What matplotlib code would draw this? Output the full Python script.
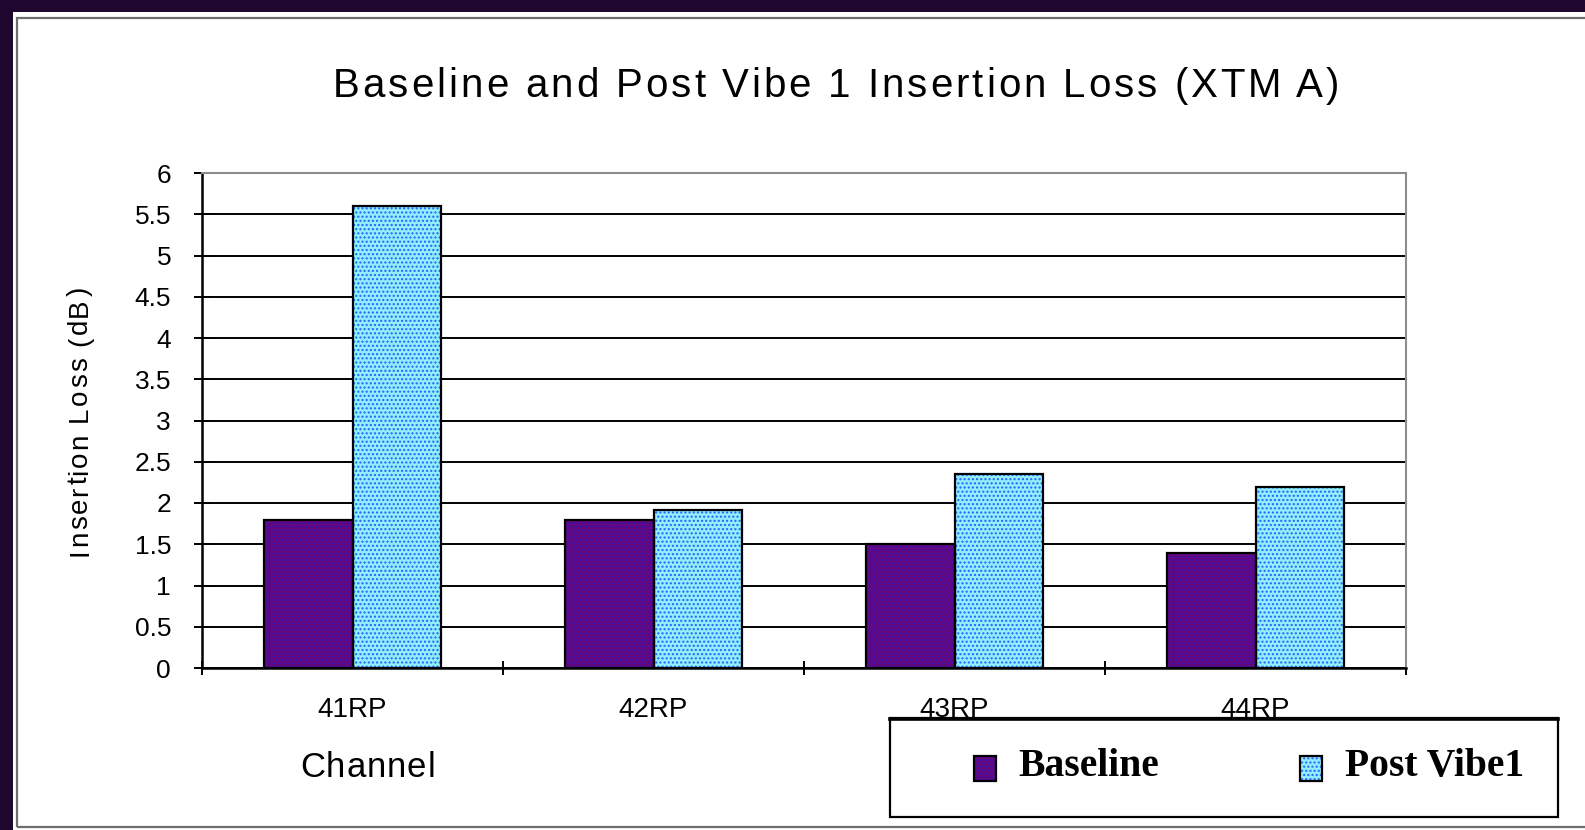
import matplotlib
matplotlib.use("Agg")
import numpy as np
import matplotlib.pyplot as plt
from matplotlib.patches import Rectangle
from matplotlib.lines import Line2D
from matplotlib.font_manager import FontProperties
from matplotlib.legend_handler import HandlerPatch

# ---- data -------------------------------------------------------------
channels = ["41RP", "42RP", "43RP", "44RP"]
baseline = [1.80, 1.80, 1.50, 1.40]
post_vibe1 = [5.60, 1.92, 2.35, 2.20]
series_names = ["Baseline", "Post Vibe1"]
y_ticks = [0, 0.5, 1, 1.5, 2, 2.5, 3, 3.5, 4, 4.5, 5, 5.5, 6]
y_tick_labels = ["0", "0.5", "1", "1.5", "2", "2.5", "3", "3.5", "4", "4.5", "5", "5.5", "6"]
title = "Baseline and Post Vibe 1 Insertion Loss (XTM A)"
x_title = "Channel"
y_title = "Insertion Loss (dB)"

# ---- canvas -----------------------------------------------------------
W, H = 1585, 830
fig = plt.figure(figsize=(W / 100, H / 100), dpi=100, facecolor="#1f062f")
plt.rcParams["hatch.linewidth"] = 1.0


def px(x, y):
    """Pixel position (origin top-left) to figure fraction."""
    return x / W, 1 - y / H


# white page and thin grey chart frame
fig.add_artist(Rectangle((13 / W, 0), 1, 1 - 12 / H, transform=fig.transFigure,
                         facecolor="white", edgecolor="none", zorder=-10))
fig.add_artist(Rectangle(px(17, 827), (W + 20 - 17) / W, (827 - 18) / H,
                         transform=fig.transFigure, fill=False,
                         edgecolor="#6e6e6e", lw=1.6, zorder=-9))

sans = "Liberation Sans"


def spaced_text(s, x0, y0, span, size, rotation=0, family=sans, weight="normal"):
    """Draw text letter by letter so that its ink spans `span` pixels."""
    r = fig.canvas.get_renderer()
    fp = FontProperties(family=family, size=size, weight=weight)

    def w(t):
        return r.get_text_width_height_descent(t, fp, ismath=False)[0]

    gap = (span - w(s)) / (len(s) - 1)
    for i, ch in enumerate(s):
        if ch == " ":
            continue
        off = (w(s[:i] + ch) - w(ch) if i else 0) + i * gap
        if rotation == 0:
            xx, yy = x0 + off, y0
        else:
            xx, yy = x0, y0 - off
        fig.text(*px(xx, yy), ch, fontproperties=fp, ha="left", va="baseline",
                 rotation=rotation, rotation_mode="anchor", color="black")


# ---- axes -------------------------------------------------------------
ax = fig.add_axes([202 / W, 1 - 668 / H, (1406 - 202) / W, (668 - 173) / H])
ax.set_facecolor("white")
x = np.arange(len(channels))
bw = 0.295

face_b, dots_b = "#68067a", "#3414b4"
face_p, dots_p = "#92eefa", "#2262ff"

b_face = ax.bar(x - bw / 2, baseline, bw, color=face_b, lw=0, zorder=2)
b_dots = ax.bar(x - bw / 2, baseline, bw, facecolor="none", edgecolor=dots_b,
                hatch=".....", lw=0, zorder=2.1)
b_edge = ax.bar(x - bw / 2, baseline, bw, facecolor="none", edgecolor="black",
                lw=1.6, zorder=2.2)

p_face = ax.bar(x + bw / 2, post_vibe1, bw, color=face_p, lw=0, zorder=2)
p_dots = ax.bar(x + bw / 2, post_vibe1, bw, facecolor="none", edgecolor=dots_p,
                hatch="....", lw=0, zorder=2.1)
p_edge = ax.bar(x + bw / 2, post_vibe1, bw, facecolor="none", edgecolor="black",
                lw=1.6, zorder=2.2)

ax.set_xlim(-0.5, len(channels) - 0.5)
ax.set_ylim(0, 6)
ax.set_yticks(y_ticks)
ax.set_yticklabels(y_tick_labels, fontsize=19, family=sans)
ax.set_xticks(x)
ax.set_xticklabels(channels, fontsize=20, family=sans)
ax.set_xticks(np.arange(-0.5, len(channels), 1), minor=True)

ax.tick_params(axis="y", direction="inout", length=11.5, width=1.4, pad=16.5,
               colors="black")
ax.tick_params(axis="x", which="major", length=0, pad=21)
ax.tick_params(axis="x", which="minor", direction="inout", length=10, width=1.4)

ax.yaxis.grid(True, color="black", lw=1.4)
ax.set_axisbelow(True)
for s in ("top", "right"):
    ax.spines[s].set_color("#8c8c8c")
    ax.spines[s].set_linewidth(1.5)
for s in ("left", "bottom"):
    ax.spines[s].set_color("black")
    ax.spines[s].set_linewidth(1.8)

# ---- titles -----------------------------------------------------------
spaced_text(title, 333, 97, 1006, 29)
spaced_text(x_title, 300, 777, 135, 25)
spaced_text(y_title, 87, 556, 269, 20, rotation=90)

# ---- legend -----------------------------------------------------------
fig.add_artist(Rectangle(px(890, 817), (1558 - 890) / W, (817 - 718) / H,
                         transform=fig.transFigure, facecolor="white",
                         edgecolor="black", lw=1.6, zorder=4))
fig.add_artist(Line2D([890 / W, 1558 / W], [1 - 719 / H] * 2,
                      transform=fig.transFigure, color="black", lw=2.6, zorder=4.1))


def lowered_key(legend, orig_handle, xdescent, ydescent, width, height, fontsize):
    # legend key square, sitting slightly below the text's x-height band
    return Rectangle((-xdescent, -ydescent - 5), width, height)


fig.legend(handles=[(b_face[0], b_dots[0], b_edge[0]),
                    (p_face[0], p_dots[0], p_edge[0])],
           labels=series_names, ncol=2, frameon=False, loc="center",
           bbox_to_anchor=px(1249, 766),
           handler_map={Rectangle: HandlerPatch(patch_func=lowered_key)},
           prop=FontProperties(family="Liberation Serif", weight="bold", size=28.5),
           handlelength=0.56, handleheight=0.56, handletextpad=0.58,
           columnspacing=3.55, borderpad=0)

fig.savefig("out.png", dpi=100)
